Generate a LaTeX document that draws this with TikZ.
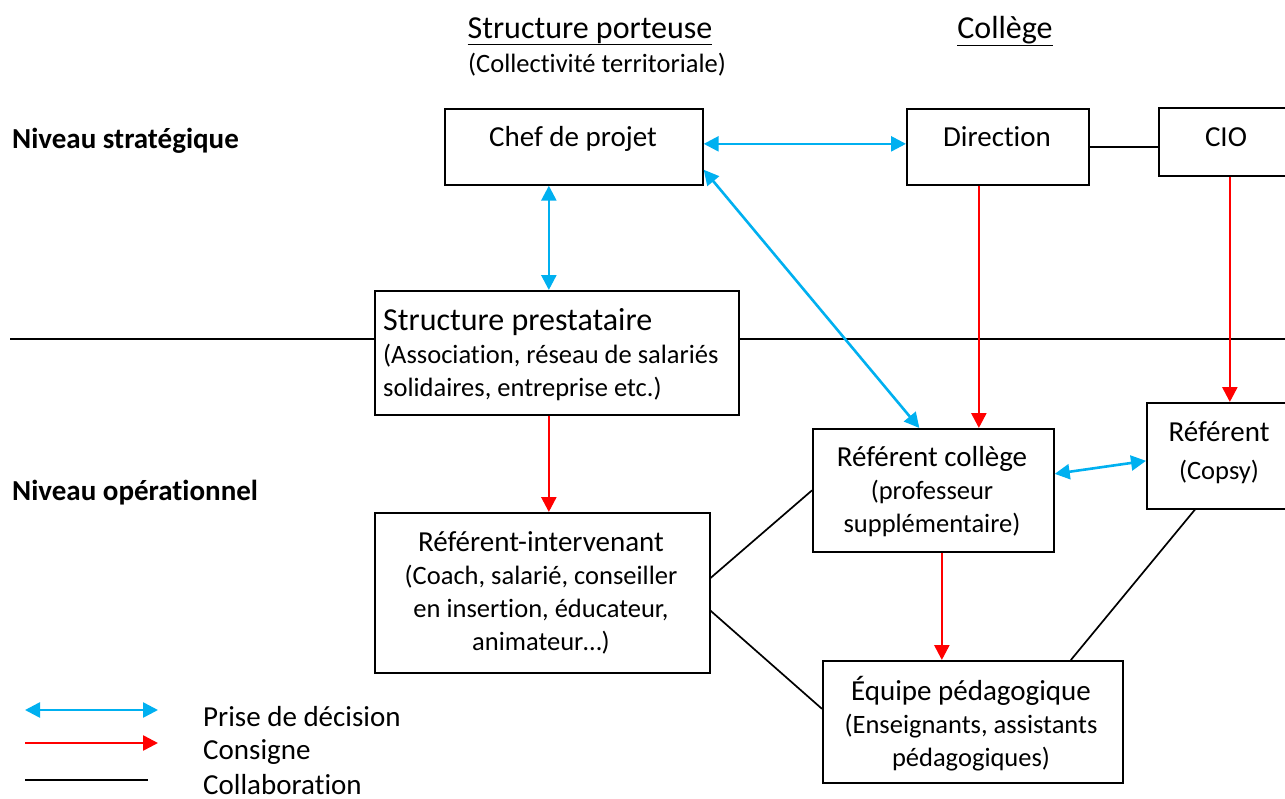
\documentclass[tikz,border=0pt]{standalone}
\usepackage{fontspec}
\setmainfont{Carlito}[Ligatures={NoCommon,NoRequired},RawFeature={-liga;-clig;-calt}]
\usetikzlibrary{arrows.meta}
\definecolor{blu}{RGB}{0,176,240}
\definecolor{rd}{RGB}{255,0,0}
\newcommand{\nolig}{\kern0pt }
\begin{document}
\begin{tikzpicture}[x=1pt,y=-1pt,
  box/.style={draw=black,line width=1.7pt,inner sep=0pt,anchor=north west},
  txt/.style={inner sep=0pt,align=center,font=\fontsize{29}{35}\selectfont},
  sub/.style={inner sep=0pt,align=center,font=\fontsize{26.5}{33}\selectfont},
  dec/.style={blu,line width=2.6pt,{Triangle[length=15pt,width=15pt]}-{Triangle[length=15pt,width=15pt]}},
  cons/.style={rd,line width=2.6pt,-{Triangle[length=15pt,width=15pt]}},
  coll/.style={black,line width=1.7pt}]
\useasboundingbox (0,0) rectangle (1285,798);
\clip (0,0) rectangle (1285,798);
\fill[white] (0,0) rectangle (1285,798);

% headers
\node[txt,anchor=base,font=\fontsize{32}{38}\selectfont] (h1) at (590,38) {\underline{Structure porteuse}};
\node[sub,anchor=base] (h1s) at (597,72) {(Collect\nolig ivité territoriale)};
\node[txt,anchor=base,font=\fontsize{32}{38}\selectfont] (h2) at (1005,38) {\underline{Collège}};
\node[txt,anchor=base west,font=\fontsize{29}{35}\selectfont\bfseries] (ns) at (12,148) {Niveau stratégique};
\node[txt,anchor=base west,font=\fontsize{29}{35}\selectfont\bfseries] (no) at (12,500) {Niveau opérat\nolig ionnel};

% boxes
\node[box,minimum width=258pt,minimum height=76pt] (chef) at (444,108) {};
\node[box,minimum width=182pt,minimum height=76pt] (dir) at (906,108) {};
\node[box,minimum width=140pt,minimum height=68pt] (cio) at (1158,107) {};
\node[box,minimum width=364pt,minimum height=124pt] (sp) at (374,290) {};
\node[box,minimum width=241pt,minimum height=123pt] (rc) at (812,428) {};
\node[box,minimum width=152pt,minimum height=106pt] (ref) at (1146,402) {};
\node[box,minimum width=335pt,minimum height=160pt] (ri) at (374,512) {};
\node[box,minimum width=300pt,minimum height=122pt] (eq) at (822,660) {};

% box texts
\node[txt,anchor=base] (chef-t) at (573,146) {Chef de projet};
\node[txt,anchor=base] (dir-t) at (997,146) {Direct\nolig ion};
\node[txt,anchor=base] (cio-t) at (1226,146) {CIO};
\node[sub,anchor=north west,align=left] (sp-t) at (383,308) {{\fontsize{32}{38}\selectfont Structure prestataire}\\(Associat\nolig ion, réseau de salariés\\solidaires, entreprise etc.)};
\node[sub,anchor=north] (rc-t) at (932,446) {{\fontsize{29}{35}\selectfont Référent collège}\\(professeur\\supplémentaire)};
\node[sub,anchor=north] (ref-t) at (1219,421) {{\fontsize{29}{35}\selectfont Référent}\\[5pt](Copsy)};
\node[sub,anchor=north] (ri-t) at (541,531) {{\fontsize{29}{35}\selectfont Référent-intervenant}\\(Coach, salarié, conseiller\\en insert\nolig ion, éducateur,\\animateur…)};
\node[sub,anchor=north] (eq-t) at (971,676) {{\fontsize{29}{35}\selectfont Équipe pédagogique}\\(Enseignants, assistants\\pédagogiques)};

% level line
\coordinate (lvlL) at (10,339);
\coordinate (lvlR) at (1290,339);
\draw[coll] (lvlL) -- (lvlL -| sp.west);
\draw[coll] (sp.east |- lvlL) -- (lvlR);

% connectors
\draw[dec] ([yshift=3pt]chef.east) -- ([yshift=3pt]dir.west);
\draw[dec] ([xshift=-25pt]chef.south) -- ([xshift=-25pt]chef.south |- sp.north);
\draw[dec] ([yshift=16pt]chef.south east) -- ([xshift=-14pt]rc.north);
\draw[coll] (dir.east) -- (dir.east -| cio.west);
\draw[cons] ([xshift=-19pt]dir.south) -- ([xshift=-19pt]dir.south |- rc.north);
\draw[cons] ([xshift=1pt]cio.south) -- ([xshift=1pt]cio.south |- ref.north);
\draw[cons] ([xshift=-8pt]sp.south) -- ([xshift=-8pt]sp.south |- ri.north);
\draw[cons] ([xshift=8.5pt]rc.south) -- ([xshift=8.5pt]rc.south |- eq.north);
\draw[dec] ([yshift=16.5pt]rc.east) -- ([yshift=-5pt]ref.west);
\draw[coll] ([yshift=15pt]ri.east) -- (rc.west);
\draw[coll] ([yshift=-18pt]ri.east) -- ([yshift=13pt]eq.west);
\draw[coll] ([xshift=-28pt]ref.south) -- ([xshift=98pt]eq.north);

% legend
\coordinate (l1a) at (25,710); \coordinate (l1b) at (158,710);
\coordinate (l2a) at (25,743); \coordinate (l2b) at (158,743);
\coordinate (l3a) at (25,780); \coordinate (l3b) at (148,780);
\draw[dec] (l1a) -- (l1b);
\draw[cons] (l2a) -- (l2b);
\draw[coll] (l3a) -- (l3b);
\node[txt,anchor=base west] (lg1) at (203,726) {Prise de décision};
\node[txt,anchor=base west] (lg2) at (203,759) {Consigne};
\node[txt,anchor=base west] (lg3) at (203,794) {Collaborat\nolig ion};
\end{tikzpicture}
\end{document}
